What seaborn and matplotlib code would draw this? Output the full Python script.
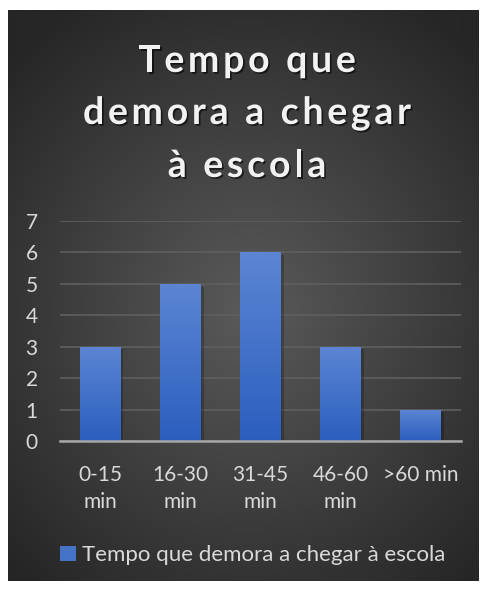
import numpy as np
import pandas as pd
import seaborn as sns
import matplotlib.pyplot as plt
from matplotlib.patches import Patch
from matplotlib.font_manager import FontProperties
import matplotlib.patheffects as pe

# chart data
categories = ['0-15\nmin', '16-30\nmin', '31-45\nmin', '46-60\nmin', '>60 min']
counts = [3, 5, 6, 3, 1]
series_name = 'Tempo que demora a chegar à escola'
title_lines = ['Tempo que', 'demora a chegar', 'à escola']

sns.set_style('white')
plt.rcParams['font.family'] = ['Lato', 'DejaVu Sans']

W, H = 486, 589
fig = plt.figure(figsize=(W / 100, H / 100), dpi=100, facecolor='white')

# dark radial background like the excel style
bg = fig.add_axes([8 / W, 1 - 581 / H, 470 / W, 571 / H])
yy, xx = np.mgrid[0:571, 0:470]
r = np.sqrt(((xx - 240) / 330.0) ** 2 + ((yy - 300) / 360.0) ** 2)
r = np.clip(r, 0, 1)
c0 = np.array([0x5a, 0x5a, 0x5a]) / 255
c1 = np.array([0x26, 0x26, 0x26]) / 255
img = c0[None, None, :] * (1 - r[..., None]) + c1[None, None, :] * r[..., None]
bg.imshow(img, aspect='auto', extent=[0, 1, 0, 1])
bg.set_axis_off()

# plot area
ax = fig.add_axes([60 / W, 1 - 441 / H, 401 / W, 220 / H])
ax.set_facecolor('none')
df = pd.DataFrame({'cat': categories, 'val': counts})
sns.barplot(data=df, x='cat', y='val', ax=ax, color='#3f6fca', width=0.51,
            saturation=1, zorder=3, linewidth=0, edgecolor='none')
ax.set_xlim(-0.5, 4.5)
ax.set_ylim(0, 7)
ax.set_yticks(range(0, 8))
ax.set_xlabel('')
ax.set_ylabel('')
ax.grid(axis='y', color='#5f5f5f', linewidth=1.2, zorder=0)
ax.grid(axis='x', visible=False)
for s in ['top', 'right', 'left']:
    ax.spines[s].set_visible(False)
ax.spines['bottom'].set_color('#a6a6a6')
ax.spines['bottom'].set_linewidth(1.8)
ax.spines['bottom'].set_zorder(5)
ax.tick_params(axis='y', length=0, pad=16, labelsize=15, labelcolor='#d9d9d9')
ax.tick_params(axis='x', length=0, pad=17, labelsize=15, labelcolor='#d9d9d9')
for lab in ax.get_xticklabels():
    lab.set_linespacing(1.45)

# vertical gradient fill on bars
grad = np.linspace(0, 1, 256)[:, None]
top = np.array([0x5c, 0x86, 0xd4]) / 255
bot = np.array([0x2c, 0x5e, 0xbf]) / 255
gimg = top[None, None, :] * (1 - grad[..., None]) + bot[None, None, :] * grad[..., None]
for p in ax.patches:
    p.set_path_effects([pe.SimplePatchShadow(offset=(2, -2), shadow_rgbFace='black', alpha=0.22), pe.Normal()])
    x0, y0 = p.get_x(), p.get_y()
    im = ax.imshow(gimg, aspect='auto', extent=[x0, x0 + p.get_width(), y0, y0 + p.get_height()],
                   zorder=4)
    im.set_clip_path(p)
ax.set_xlim(-0.5, 4.5)
ax.set_ylim(0, 7)

# title with wide letter spacing, placed char by char
renderer = fig.canvas.get_renderer()
tprop = FontProperties(family=['Lato', 'DejaVu Sans'], weight='bold', size=27)


def text_w(s):
    w, _, _ = renderer.get_text_width_height_descent(s + '|', tprop, ismath=False)
    w0, _, _ = renderer.get_text_width_height_descent('|', tprop, ismath=False)
    return w - w0


target = 328
track = (target - text_w(title_lines[1])) / (len(title_lines[1]) - 1)
ys = [72, 124, 177]
cx = 247
shadow = [pe.withSimplePatchShadow(offset=(1.2, -1.2), shadow_rgbFace='black', alpha=0.6)]
for line, yp in zip(title_lines, ys):
    total = text_w(line) + track * (len(line) - 1)
    x_start = cx - total / 2
    for i, ch in enumerate(line):
        if ch == ' ':
            continue
        xp = x_start + text_w(line[:i]) + track * i
        fig.text(xp / W, 1 - yp / H, ch, ha='left', va='baseline', fontproperties=tprop,
                 color='#f2f2f2', path_effects=shadow)

# legend
handle = Patch(facecolor='#4472c4', edgecolor='none', label=series_name)
fig.legend(handles=[handle], loc='center', bbox_to_anchor=(253 / W, 1 - 555 / H),
           frameon=False, fontsize=16, labelcolor='#d9d9d9', handlelength=0.68,
           handleheight=0.68, handletextpad=0.3, borderpad=0)

fig.savefig('out.png', dpi=100, facecolor='white')
